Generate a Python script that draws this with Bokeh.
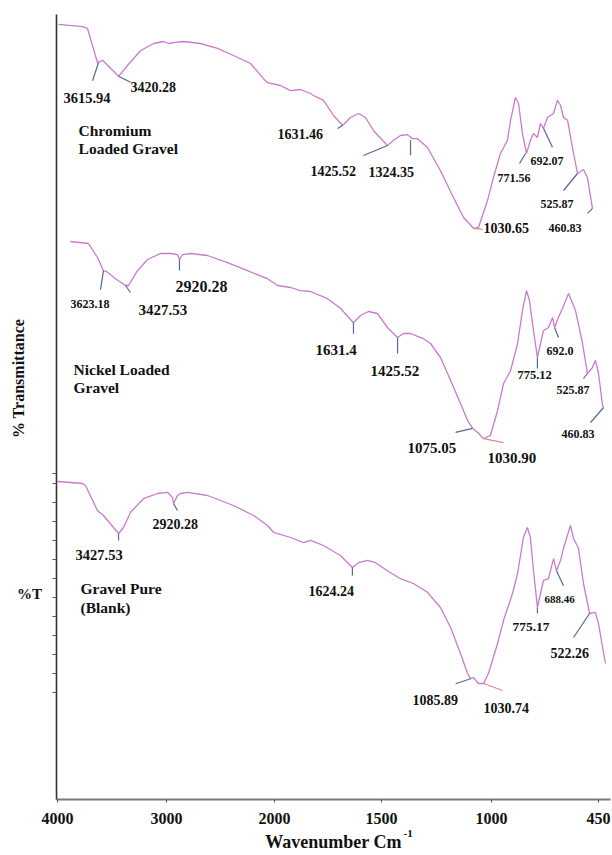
import numpy as np
from bokeh.plotting import figure
from bokeh.models import ColumnDataSource, FixedTicker, Label
from bokeh.core.properties import value, field
from bokeh.embed import file_html
from bokeh.resources import INLINE

# ---------------- axis (wavenumber, cm-1) ----------------
tick_wn = [4000, 3000, 2000, 1500, 1000, 450]
tick_labels = ["4000", "3000", "2000", "1500", "1000", "450"]

# ---------------- spectra: wavenumber (cm-1) and %T (offset, a.u.) ----------------
cr_wn = [3991, 3771, 3725, 3633, 3587, 3440, 3358, 3239, 3119, 3028, 2981, 2935, 2843,
         2685, 2528, 2380, 2222, 2102, 2065, 1972, 1925, 1879, 1832, 1818, 1771, 1724,
         1682, 1645, 1607, 1575, 1537, 1473, 1445, 1414, 1382, 1359, 1336, 1291, 1232,
         1173, 1127, 1082, 1059, 1018, 990, 954, 918, 902, 877, 861, 841, 820, 800, 784,
         764, 748, 733, 712, 681, 661, 645, 630, 609, 584, 558, 527, 507, 481]
cr_t = [96.9, 96.6, 96.4, 92.1, 92.4, 90.4, 91.75, 93.6, 94.5, 94.75, 94.5, 94.6, 94.75,
        94.5, 93.9, 93.0, 92.0, 90.1, 89.6, 89.25, 88.6, 88.75, 88.25, 88.0, 87.4, 85.5,
        84.25, 85.25, 85.75, 85.25, 83.6, 81.75, 82.4, 83.0, 83.1, 82.6, 82.6, 81.5, 78.6,
        75.25, 72.75, 71.4, 71.5, 74.9, 77.75, 80.75, 82.4, 84.9, 87.75, 87.0, 83.25, 80.75,
        82.4, 83.25, 82.75, 84.5, 83.9, 85.25, 85.75, 87.4, 86.75, 85.25, 84.9, 81.5, 78.25,
        78.75, 77.75, 73.9]

ni_wn = [3881, 3716, 3633, 3578, 3550, 3468, 3376, 3349, 3266, 3174, 3055, 2963, 2898,
         2880, 2852, 2778, 2620, 2435, 2250, 2065, 1986, 1925, 1879, 1832, 1752, 1692,
         1631, 1598, 1561, 1519, 1473, 1427, 1400, 1368, 1336, 1309, 1277, 1232, 1186,
         1141, 1109, 1086, 1064, 1036, 1005, 969, 938, 902, 866, 841, 820, 805, 784, 764,
         748, 733, 707, 686, 676, 656, 635, 604, 584, 568, 532, 507, 481, 466, 450, 429, 424]
ni_t = [69.75, 69.5, 67.75, 66.1, 66.0, 65.1, 64.25, 64.25, 66.1, 67.5, 68.25, 68.25, 68.1,
        67.5, 68.1, 68.25, 68.0, 67.1, 66.1, 65.1, 64.25, 64.0, 63.6, 63.5, 62.6, 61.4,
        59.6, 60.5, 61.0, 60.75, 59.0, 57.75, 58.25, 58.25, 57.9, 57.6, 57.0, 55.25, 52.4,
        49.5, 47.4, 46.4, 45.9, 45.1, 45.5, 48.6, 52.0, 53.6, 57.0, 61.1, 63.6, 62.4, 58.6,
        55.25, 57.0, 58.6, 59.0, 60.25, 59.0, 60.25, 61.4, 63.25, 62.1, 61.1, 57.0, 53.25,
        54.0, 54.9, 53.25, 49.25, 49.0]

gp_wn = [4000, 3771, 3743, 3633, 3578, 3486, 3440, 3394, 3330, 3211, 3083, 2991, 2944,
         2935, 2898, 2870, 2806, 2620, 2380, 2194, 2065, 2009, 1925, 1864, 1832, 1771,
         1692, 1636, 1607, 1565, 1528, 1473, 1414, 1355, 1291, 1232, 1186, 1141, 1109,
         1095, 1082, 1059, 1036, 1014, 969, 938, 892, 866, 836, 815, 800, 784, 764, 748,
         733, 707, 681, 666, 645, 630, 594, 578, 553, 527, 496, 466, 450, 429, 414]
gp_t = [39.75, 39.5, 39.25, 36.1, 35.5, 34.0, 33.25, 34.0, 35.9, 37.6, 38.25, 38.4, 37.75,
        37.0, 38.0, 38.25, 38.4, 38.0, 36.75, 35.5, 34.25, 33.4, 32.75, 32.1, 32.4, 31.75,
        30.5, 29.0, 29.6, 29.9, 29.6, 28.6, 27.6, 27.0, 25.9, 24.0, 21.5, 18.25, 15.75,
        15.1, 15.25, 14.5, 14.5, 15.75, 19.5, 22.4, 25.75, 28.25, 32.75, 34.0, 32.75, 28.6,
        24.0, 25.75, 27.4, 27.6, 30.1, 28.6, 29.9, 31.4, 34.25, 32.6, 31.4, 27.0, 23.25,
        23.4, 22.0, 19.0, 17.0]

# ---------------- peak annotations ----------------
cr_pk_lbl = ["3615.94", "3420.28", "1631.46", "1425.52", "1324.35", "1030.65",
             "771.56", "692.07", "525.87", "460.83"]
cr_pk_wn = [3624, 3440, 1682, 1473, 1368, 1082, 825, 733, 558, 481]
cr_pk_t = [92.1, 90.4, 84.25, 81.75, 82.4, 71.4, 80.75, 83.9, 78.25, 73.9]

ni_pk_lbl = ["3623.18", "3427.53", "2920.28", "1631.4", "1425.52", "1075.05", "1030.90",
             "775.12", "692.0", "525.87", "460.83"]
ni_pk_wn = [3578, 3376, 2880, 1631, 1427, 1086, 1036, 764, 676, 507, 424]
ni_pk_t = [66.1, 64.25, 67.5, 59.6, 57.75, 46.4, 45.1, 55.25, 59.0, 53.25, 49.0]

gp_pk_lbl = ["3427.53", "2920.28", "1624.24", "1085.89", "1030.74", "775.17", "688.46", "522.26"]
gp_pk_wn = [3440, 2935, 1636, 1095, 1036, 764, 666, 496]
gp_pk_t = [33.25, 37.0, 29.0, 15.1, 14.5, 24.0, 28.6, 23.25]

sample_names = [["Chromium", "Loaded Gravel"], ["Nickel Loaded", "Gravel"], ["Gravel Pure", "(Blank)"]]

# ---------------- layout / style (pixel offsets, sizes) ----------------
tick_pos = [0, 109, 217, 324, 434, 541]   # broken-scale positions of the axis ticks
cr_lead = [(-6, 18), (12, 6), (-5, 3), (-24, 10), (0, 15), (9, 1), (-6, 10), (9, 19), (-14, 17), (-5, 5)]
cr_toff = [(-35, 35), (12, 11), (-65, 8), (-77, 25), (-42, 32), (10, 0), (-28, 24), (-13, 33), (-37, 30), (-44, 20)]
cr_size = [14.5, 14, 14, 14, 14, 14, 12, 12, 12, 12]
cr_pink = [5]
ni_lead = [(-3, 19), (5, 7), (0, 11), (0, 11), (0, 16), (-17, 4), (20, 4), (0, 11), (4, 10), (-4, 5), (-13, 15)]
ni_toff = [(-33, 33), (13, 24), (-4, 27), (-38, 27), (-27, 33), (-65, 20), (4, 19), (-20, 17), (-8, 23), (-31, 16), (-42, 26)]
ni_size = [12, 15, 16, 15, 15, 15, 15, 12.5, 12, 12, 12]
ni_pink = [6]
gp_lead = [(0, 7), (4, 7), (0, 8), (-15, 5), (19, 7), (0, 6), (7, 15), (-16, 24)]
gp_toff = [(-43, 21), (-21, 20), (-44, 23), (-58, 21), (0, 24), (-25, 19), (-12, 29), (-39, 39)]
gp_size = [14.5, 14, 14, 14, 14, 13.5, 11, 14]
gp_pink = [4]
name_pos = [(3807, 83.6, 81.4), (3853, 53.75, 51.5), (3789, 26.4, 24.0)]

FONT = "Liberation Serif"
CURVE = "#c87ccc"
LEAD = "#5a6690"
PINK = "#d88c8c"
Y_PX = 8.0  # pixels per y unit


def to_u(w):
    w = np.atleast_1d(np.asarray(w, float))
    xp = np.array(tick_wn[::-1], float)
    fp = np.array(tick_pos[::-1], float)
    u = np.interp(w, xp, fp)
    lo = w < xp[0]
    u[lo] = fp[0] + (w[lo] - xp[0]) * (fp[1] - fp[0]) / (xp[1] - xp[0])
    hi = w > xp[-1]
    u[hi] = fp[-1] + (w[hi] - xp[-1]) * (fp[-1] - fp[-2]) / (xp[-1] - xp[-2])
    return u


p = figure(width=612, height=855, x_range=(-1, 553), y_range=(0, 785 / Y_PX),
           output_backend="svg", toolbar_location=None,
           min_border_left=56, min_border_right=2, min_border_top=14, min_border_bottom=56)
p.grid.visible = False
p.outline_line_color = None
p.background_fill_color = "white"
p.border_fill_color = "white"

# x axis
xt = [float(v) for v in to_u(tick_wn)]
p.xaxis.ticker = FixedTicker(ticks=xt)
p.xaxis.major_label_overrides = {v: lab for v, lab in zip(xt, tick_labels)}
p.xaxis.axis_line_color = "#7a7a7a"
p.xaxis.axis_line_width = 2
p.xaxis.major_tick_line_color = "#555555"
p.xaxis.major_tick_out = 3
p.xaxis.major_tick_in = 0
p.xaxis.minor_tick_out = 0
p.xaxis.minor_tick_in = 0
p.xaxis.major_label_standoff = 10
p.xaxis.major_label_text_font = FONT
p.xaxis.major_label_text_font_style = "bold"
p.xaxis.major_label_text_font_size = "16px"
p.xaxis.major_label_text_color = "#111111"
p.xaxis.axis_label = "Wavenumber Cm"
p.xaxis.axis_label_standoff = 5
p.xaxis.axis_label_text_font = FONT
p.xaxis.axis_label_text_font_style = "bold"
p.xaxis.axis_label_text_font_size = "18px"
p.xaxis.axis_label_text_color = "#111111"

# y axis (only the lower spectrum section carries ticks)
yt = [40.75] + [39.5 - 2.375 * k for k in range(12)]
p.yaxis.ticker = FixedTicker(ticks=yt)
p.yaxis.major_label_overrides = {v: "" for v in yt}
p.yaxis.major_label_standoff = 0
p.yaxis.axis_line_color = "#333333"
p.yaxis.axis_line_width = 1.6
p.yaxis.major_tick_line_color = "#555555"
p.yaxis.major_tick_out = 4
p.yaxis.major_tick_in = 0
p.yaxis.minor_tick_out = 0
p.yaxis.minor_tick_in = 0

spectra = [
    (cr_wn, cr_t, cr_pk_lbl, cr_pk_wn, cr_pk_t, cr_lead, cr_toff, cr_size, cr_pink),
    (ni_wn, ni_t, ni_pk_lbl, ni_pk_wn, ni_pk_t, ni_lead, ni_toff, ni_size, ni_pink),
    (gp_wn, gp_t, gp_pk_lbl, gp_pk_wn, gp_pk_t, gp_lead, gp_toff, gp_size, gp_pink),
]

for wn, t, lbl, pwn, pt, lead, toff, size, pink in spectra:
    p.line(to_u(wn), t, line_color=CURVE, line_width=1.3)
    u0 = to_u(pwn)
    x1 = [u0[i] + lead[i][0] for i in range(len(lbl))]
    y1 = [pt[i] - lead[i][1] / Y_PX for i in range(len(lbl))]
    colors = [PINK if i in pink else LEAD for i in range(len(lbl))]
    p.segment(x0=u0, y0=pt, x1=x1, y1=y1, line_color=colors, line_width=1.2)
    src = ColumnDataSource(dict(x=u0, y=pt, text=lbl,
                                xo=[o[0] for o in toff], yo=[o[1] for o in toff],
                                size=["%gpx" % s for s in size]))
    p.text(x="x", y="y", text="text", x_offset="xo", y_offset="yo", source=src,
           text_font=value(FONT), text_font_style="bold", text_font_size=field("size"),
           text_color="#111111", text_align="left", text_baseline="middle")

# sample names
nx, ny, nt = [], [], []
for (w, y1_, y2_), lines in zip(name_pos, sample_names):
    nx += [w, w]
    ny += [y1_, y2_]
    nt += lines
p.text(x=to_u(nx), y=ny, text=nt, text_font=value(FONT), text_font_style="bold",
       text_font_size="15.5px", text_color="#111111", text_align="left", text_baseline="middle")

# titles placed in side panels so they are not clipped to the frame
common = dict(x_units="screen", y_units="screen", text_font=FONT, text_font_style="bold",
              text_color="#111111", text_baseline="middle")
p.add_layout(Label(x=-17, y=421, text="% Transmittance", angle=np.pi / 2, text_align="center",
                   text_font_size="16px", **common), "left")
p.add_layout(Label(x=19, y=206, text="%T", text_align="center",
                   text_font_size="15px", **common), "left")
# superscript of the x title (panel above the frame, positioned down to the title)
p.add_layout(Label(x=347, y=-819, text="-1", text_align="left",
                   text_font_size="11px", **common), "above")

open("out.html", "w").write(file_html(p, INLINE))
